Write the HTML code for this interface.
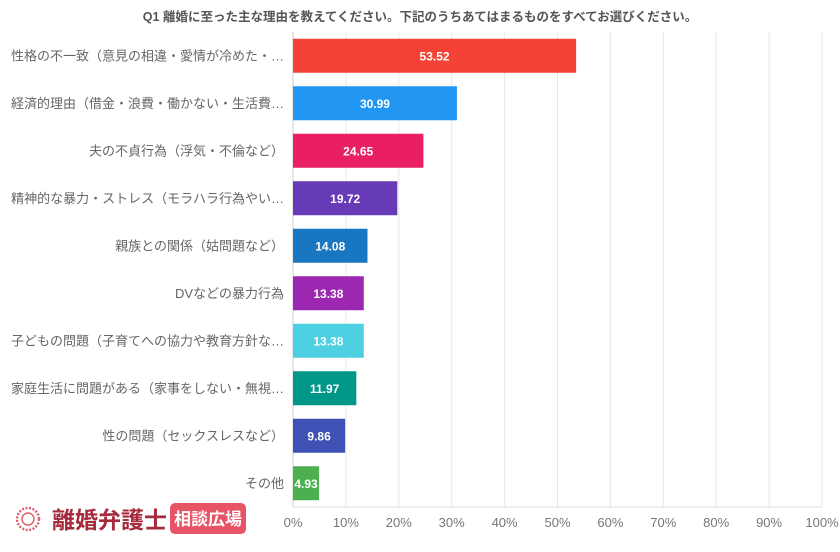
<!DOCTYPE html>
<html><head><meta charset="utf-8"><style>
body{margin:0;background:#fff;font-family:"Liberation Sans","Noto Sans CJK JP",sans-serif;}
</style></head><body>
<svg id="c" width="840" height="547" xmlns="http://www.w3.org/2000/svg" font-family="Liberation Sans, Noto Sans CJK JP, sans-serif">
<text x="420" y="21" text-anchor="middle" font-size="12.5" font-weight="bold" fill="#555">Q1 離婚に至った主な理由を教えてください。下記のうちあてはまるものをすべてお選びください。</text>
<g id="grid"></g><g id="bars"></g>
<g>
<circle cx="28" cy="519" r="11" fill="none" stroke="#e06070" stroke-width="2.5" stroke-dasharray="2 1.5"/>
<circle cx="28" cy="519" r="6" fill="none" stroke="#e06070" stroke-width="1.5"/>
<text x="52" y="528" font-size="23" font-weight="bold" fill="#a52a3c">離婚弁護士</text>
<rect x="170" y="503" width="76" height="31" rx="5" fill="#e65465"/>
<text x="208" y="525" text-anchor="middle" font-size="17" font-weight="bold" fill="#fff">相談広場</text>
</g>
</svg>
<script>
const categories=["性格の不一致（意見の相違・愛情が冷めた・…","経済的理由（借金・浪費・働かない・生活費…","夫の不貞行為（浮気・不倫など）","精神的な暴力・ストレス（モラハラ行為やい…","親族との関係（姑問題など）","DVなどの暴力行為","子どもの問題（子育てへの協力や教育方針な…","家庭生活に問題がある（家事をしない・無視…","性の問題（セックスレスなど）","その他"];
const values=[53.52,30.99,24.65,19.72,14.08,13.38,13.38,11.97,9.86,4.93];
const tickLabels=["0%","10%","20%","30%","40%","50%","60%","70%","80%","90%","100%"];
const tickValues=[0,10,20,30,40,50,60,70,80,90,100];
const colors=["#f44336","#2196f3","#e91e63","#673ab7","#1976c0","#9c27b0","#4dd0e1","#009688","#3f51b5","#4caf50"];
const NS="http://www.w3.org/2000/svg";
const X0=293,X1=822,TOP=32,BOTTOM=507;
const xs=v=>X0+(X1-X0)*v/100;
const pitch=(BOTTOM-TOP)/categories.length;
const yc=i=>TOP+pitch*(i+0.5);
function mk(t,a,p){const e=document.createElementNS(NS,t);for(const k in a)e.setAttribute(k,a[k]);p.appendChild(e);return e;}
const g=document.getElementById('grid'),b=document.getElementById('bars');
tickValues.forEach((v,i)=>{
 const l=mk('line',{x1:xs(v),x2:xs(v),y1:TOP,y2:BOTTOM,stroke:i==0?'#ccc':'#e8e8e8'},g);
 
 
 const t=mk('text',{x:xs(v),y:527,'text-anchor':'middle','font-size':13,fill:'#777'},g);t.textContent=tickLabels[i];
 
 
});
mk('line',{x1:X0,x2:X1,y1:BOTTOM,y2:BOTTOM,stroke:'#ddd'},g);
categories.forEach((c,i)=>{
 const y=yc(i);
 const r=mk('rect',{x:X0,y:y-17,width:xs(values[i])-X0,height:34,fill:colors[i]},b);
 
 
 const t=mk('text',{x:(X0+xs(values[i]))/2,y:y+4.5,'text-anchor':'middle','font-size':12,'font-weight':'bold',fill:'#fff'},b);t.textContent=values[i].toFixed(2);
 
 
 const l=mk('text',{x:284,y:y+4.5,'text-anchor':'end','font-size':13,fill:'#666'},b);l.textContent=c;
 
 
});
</script>
</body></html>
